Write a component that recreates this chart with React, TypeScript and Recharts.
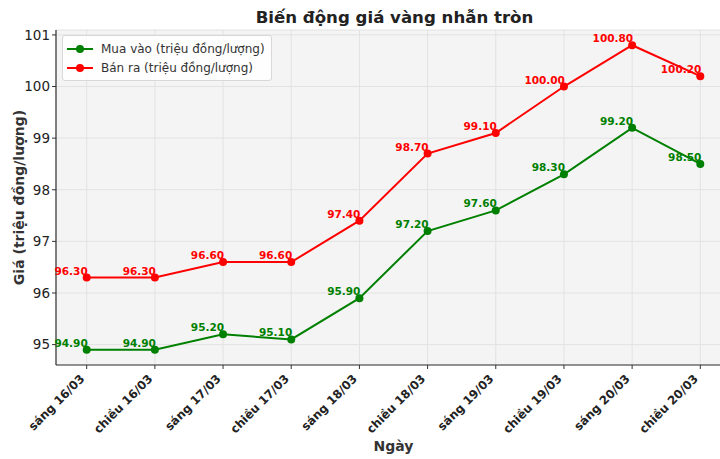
import { LineChart, Line, XAxis, YAxis, CartesianGrid, LabelList } from 'recharts';

const days = [
  'sáng 16/03',
  'chiều 16/03',
  'sáng 17/03',
  'chiều 17/03',
  'sáng 18/03',
  'chiều 18/03',
  'sáng 19/03',
  'chiều 19/03',
  'sáng 20/03',
  'chiều 20/03',
];
const buyPrices = [94.9, 94.9, 95.2, 95.1, 95.9, 97.2, 97.6, 98.3, 99.2, 98.5];
const sellPrices = [96.3, 96.3, 96.6, 96.6, 97.4, 98.7, 99.1, 100.0, 100.8, 100.2];
const yTicks = [95, 96, 97, 98, 99, 100, 101];

const data = days.map((day, i) => ({ day, buy: buyPrices[i], sell: sellPrices[i] }));

const FONT = '"DejaVu Sans", sans-serif';
const GREEN = '#008000';
const RED = '#ff0000';

// value labels sit above-left of each point, like matplotlib ha='right'
const valueLabel = (color: string) => (props: any) => {
  const { x, y, value } = props;
  return (
    <text
      x={x + 1}
      y={y - 3}
      textAnchor="end"
      fontSize={10.5}
      fontWeight="bold"
      fontFamily={FONT}
      fill={color}
    >
      {Number(value).toFixed(2)}
    </text>
  );
};

const XTick = ({ x, y, payload }: any) => (
  <g transform={`translate(${x - 1.5},${y + 8.5})`}>
    <text
      transform="rotate(-45)"
      textAnchor="end"
      fontSize={11.8}
      fontWeight="bold"
      fontFamily={FONT}
      fill="#222"
    >
      {payload.value}
    </text>
  </g>
);

const LegendBox = () => {
  const items = [
    { label: 'Mua vào (triệu đồng/lượng)', color: GREEN },
    { label: 'Bán ra (triệu đồng/lượng)', color: RED },
  ];
  return (
    <div
      style={{
        position: 'absolute',
        left: 62,
        top: 35,
        background: 'rgba(255,255,255,0.85)',
        border: '1px solid #d8d8d8',
        borderRadius: 3,
        padding: '3px 6px 3px 3px',
        fontFamily: FONT,
        fontSize: 12,
        color: '#333',
      }}
    >
      {items.map((it) => (
        <div key={it.label} style={{ display: 'flex', alignItems: 'center', height: 19 }}>
          <svg width={28} height={10} style={{ marginRight: 7 }}>
            <line x1={1} y1={5} x2={27} y2={5} stroke={it.color} strokeWidth={2} />
            <circle cx={14} cy={5} r={4} fill={it.color} />
          </svg>
          <span>{it.label}</span>
        </div>
      ))}
    </div>
  );
};

export default function App() {
  return (
    <div
      style={{
        position: 'fixed',
        left: 0,
        top: 0,
        width: 720,
        height: 459,
        overflow: 'hidden',
        background: '#fff',
      }}
    >
      <LineChart
        width={731}
        height={459}
        data={data}
        margin={{ top: 30, right: 0, left: 0, bottom: 0 }}
      >
        <CartesianGrid stroke="#e2e2e2" fill="#f4f4f4" />
        <XAxis
          dataKey="day"
          interval={0}
          height={94}
          padding={{ left: 30.7, right: 30.7 }}
          axisLine={{ stroke: '#333', strokeWidth: 1.2 }}
          tickLine={{ stroke: '#333' }}
          tickSize={4}
          tick={<XTick />}
          label={{
            value: 'Ngày',
            position: 'insideBottom',
            offset: 8,
            fontSize: 14,
            fontWeight: 'bold',
            fontFamily: FONT,
            fill: '#333',
          }}
        />
        <YAxis
          width={56}
          domain={[94.605, 101.095]}
          ticks={yTicks}
          allowDataOverflow
          axisLine={{ stroke: '#333', strokeWidth: 1.2 }}
          tickLine={{ stroke: '#333' }}
          tickSize={4}
          tick={{ fontSize: 13.5, fill: '#222', fontFamily: FONT }}
          label={{
            value: 'Giá (triệu đồng/lượng)',
            angle: -90,
            position: 'insideLeft',
            offset: 19,
            style: { textAnchor: 'middle' },
            fontSize: 14,
            fontWeight: 'bold',
            fontFamily: FONT,
            fill: '#333',
          }}
        />
        <Line
          type="linear"
          dataKey="buy"
          stroke={GREEN}
          strokeWidth={2}
          dot={{ r: 4, fill: GREEN, stroke: 'none' }}
          activeDot={false}
          isAnimationActive={false}
        >
          <LabelList dataKey="buy" content={valueLabel(GREEN)} />
        </Line>
        <Line
          type="linear"
          dataKey="sell"
          stroke={RED}
          strokeWidth={2}
          dot={{ r: 4, fill: RED, stroke: 'none' }}
          activeDot={false}
          isAnimationActive={false}
        >
          <LabelList dataKey="sell" content={valueLabel(RED)} />
        </Line>
        <text
          x={394.5}
          y={23}
          textAnchor="middle"
          fontSize={16.6}
          fontWeight="bold"
          fontFamily={FONT}
          fill="#222"
        >
          Biến động giá vàng nhẫn tròn
        </text>
      </LineChart>
      <LegendBox />
    </div>
  );
}
